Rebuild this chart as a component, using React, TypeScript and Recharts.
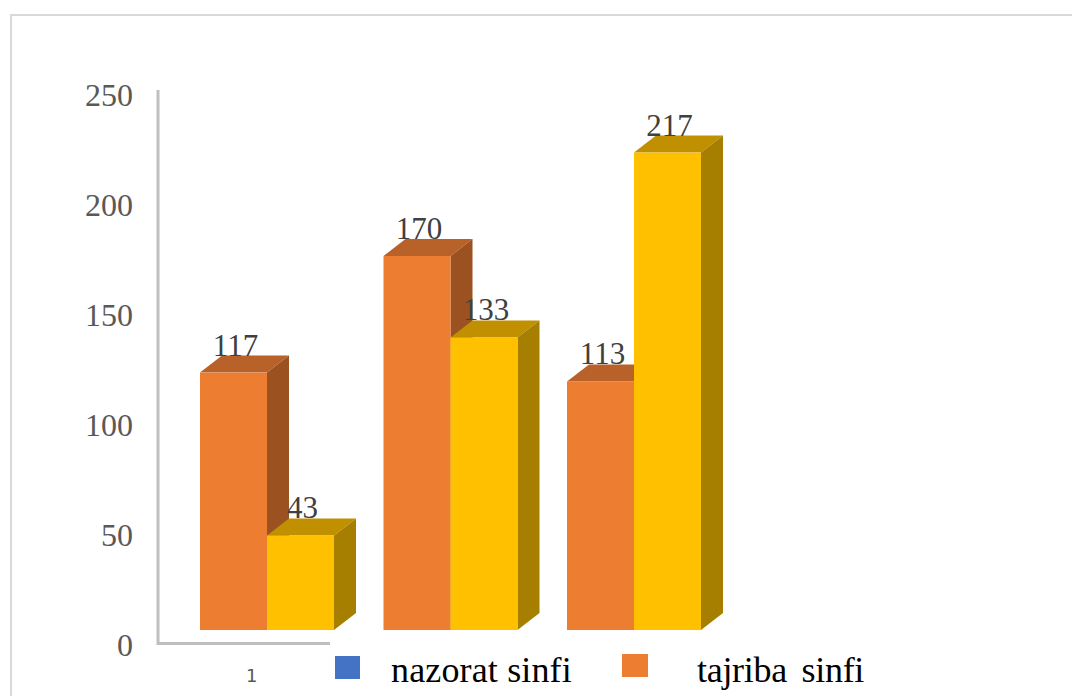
import { BarChart, Bar, XAxis, YAxis, LabelList } from 'recharts'

const categories = ['1', '', '']
const orangeValues = [117, 170, 113]
const yellowValues = [43, 133, 217]
const yTicks = [0, 50, 100, 150, 200, 250]

const legendNames = ['nazorat sinfi', 'tajriba sinfi']
const legendColors = ['#4472C4', '#ED7D31']

const data = categories.map((name, i) => ({
  name,
  orange: orangeValues[i],
  yellow: yellowValues[i],
}))

const SERIF = '"Liberation Serif", serif'
const DEPTH_X = 22
const DEPTH_Y = 17

// front face comes from the scales, top and side are offset by the fake 3D depth
function makeBox(topFill: string, sideFill: string) {
  return function Box(props: any) {
    const { x, y, width, height, fill } = props
    const right = x + width
    const bottom = y + height
    return (
      <g>
        <polygon
          points={`${x},${y} ${x + DEPTH_X},${y - DEPTH_Y} ${right + DEPTH_X},${y - DEPTH_Y} ${right},${y}`}
          fill={topFill}
        />
        <polygon
          points={`${right},${y} ${right + DEPTH_X},${y - DEPTH_Y} ${right + DEPTH_X},${bottom - DEPTH_Y} ${right},${bottom}`}
          fill={sideFill}
        />
        <rect x={x} y={y} width={width} height={height} fill={fill} />
      </g>
    )
  }
}

const labelStyle = { fontSize: 31, fill: '#404040', fontFamily: SERIF }

function BarLabel(props: any) {
  const { x, y, width, value } = props
  return (
    <text x={x + width / 2 + 2} y={y - 17} textAnchor="middle" style={labelStyle}>
      {value}
    </text>
  )
}

export default function App() {
  return (
    <div style={{ position: 'absolute', left: 0, top: 0, width: 1072, height: 696, overflow: 'hidden', background: '#fff' }}>
      <div
        style={{
          position: 'absolute',
          left: 10,
          top: 14,
          width: 1100,
          height: 720,
          border: '2px solid #d9d9d9',
          boxSizing: 'border-box',
        }}
      />
      <div style={{ position: 'absolute', left: 0, top: 0 }}>
        <BarChart
          width={1072}
          height={696}
          data={data}
          margin={{ top: 80, right: 346.5, bottom: 36, left: 0 }}
          barCategoryGap={25}
          barGap={0}
        >
          <polyline
            points="158,90 158,643.5 330,643.5"
            fill="none"
            stroke="#bfbfbf"
            strokeWidth={3}
          />
          <XAxis
            dataKey="name"
            height={30}
            interval={0}
            axisLine={false}
            tickLine={false}
            tickMargin={33}
            tick={{ fontSize: 18, fill: '#595959', fontFamily: 'DejaVu Sans', dx: -15 }}
          />
          <YAxis
            width={175}
            domain={[0, 250]}
            ticks={yTicks}
            axisLine={false}
            tickLine={false}
            tickSize={0}
            tickMargin={42}
            tick={{ fontSize: 32, fill: '#595959', fontFamily: SERIF, dy: 14.5 }}
          />
          <Bar dataKey="orange" fill="#ED7D31" shape={makeBox('#B8622A', '#9C5220')} isAnimationActive={false}>
            <LabelList dataKey="orange" content={BarLabel} />
          </Bar>
          <Bar dataKey="yellow" fill="#FFC000" shape={makeBox('#C09000', '#A67F00')} isAnimationActive={false}>
            <LabelList dataKey="yellow" content={BarLabel} />
          </Bar>
        </BarChart>
      </div>
      {legendNames.map((name, i) => (
        <div key={name}>
          <div
            style={{
              position: 'absolute',
              left: i === 0 ? 335 : 622,
              top: i === 0 ? 656 : 654,
              width: i === 0 ? 25 : 26,
              height: 23,
              background: legendColors[i],
            }}
          />
          <div
            style={{
              position: 'absolute',
              left: i === 0 ? 391 : 697,
              top: 650,
              fontFamily: SERIF,
              fontSize: 36,
              lineHeight: '40px',
              letterSpacing: i === 0 ? 0.15 : -0.3,
              wordSpacing: i === 0 ? 0 : 6,
              color: '#000',
              whiteSpace: 'nowrap',
            }}
          >
            {name}
          </div>
        </div>
      ))}
    </div>
  )
}
